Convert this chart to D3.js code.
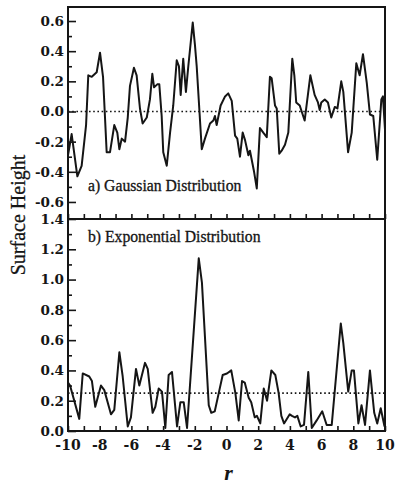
<!DOCTYPE html>
<html><head><meta charset="utf-8">
<script src="https://cdn.jsdelivr.net/npm/d3@7"></script>
<style>
html,body{margin:0;padding:0;background:#fff;}
svg{display:block;}
</style></head>
<body>
<svg id="chart" width="398" height="486"></svg>
<script>
// ---- Data ----
const gaussR = [-10.00,-9.77,-9.41,-9.14,-8.86,-8.72,-8.50,-8.19,-7.98,-7.79,-7.56,-7.35,-7.08,-6.89,-6.76,-6.61,-6.40,-6.23,-6.09,-5.84,-5.67,-5.46,-5.29,-5.03,-4.83,-4.68,-4.57,-4.37,-4.24,-4.09,-3.99,-3.77,-3.56,-3.36,-3.14,-3.00,-2.89,-2.73,-2.56,-2.41,-2.13,-1.99,-1.88,-1.56,-1.36,-1.04,-0.83,-0.73,-0.62,-0.37,-0.09,0.11,0.33,0.54,0.68,0.85,1.02,1.17,1.38,1.48,1.74,1.91,2.11,2.32,2.54,2.74,2.85,3.06,3.17,3.33,3.48,3.69,3.90,4.15,4.28,4.40,4.62,4.93,5.29,5.56,5.77,5.88,5.98,6.20,6.40,6.61,6.83,7.00,7.24,7.37,7.67,7.90,8.19,8.40,8.61,8.85,9.05,9.26,9.51,9.77,9.87,10.00];
const gaussH = [-0.29,-0.15,-0.43,-0.36,-0.09,0.24,0.23,0.26,0.39,0.23,-0.27,-0.27,-0.09,-0.14,-0.25,-0.18,-0.20,-0.04,0.17,0.29,0.24,0.02,-0.08,-0.04,0.08,0.25,0.16,0.18,0.18,-0.03,-0.27,-0.36,-0.14,0.04,0.34,0.30,0.11,0.35,0.13,0.30,0.59,0.44,0.30,-0.25,-0.18,-0.08,-0.06,-0.03,-0.09,0.04,0.10,0.12,0.07,-0.16,-0.18,-0.30,-0.14,-0.19,-0.29,-0.26,-0.40,-0.51,-0.11,-0.14,-0.17,0.23,0.22,0.04,0.02,-0.28,-0.26,-0.22,-0.14,0.35,0.24,0.06,0.04,-0.06,0.24,0.11,0.06,0.01,0.06,0.08,0.06,-0.04,0.03,0.02,0.20,0.13,-0.27,-0.14,0.32,0.24,0.38,0.19,-0.02,-0.03,-0.32,0.08,0.10,-0.12];

const expR = [-10.00,-9.87,-9.29,-9.07,-8.66,-8.49,-8.28,-7.92,-7.71,-7.29,-7.08,-6.76,-6.55,-6.23,-6.03,-5.71,-5.50,-5.14,-4.97,-4.66,-4.49,-4.28,-4.07,-3.86,-3.65,-3.44,-3.12,-2.91,-2.70,-2.49,-1.75,-1.55,-1.12,-0.96,-0.74,-0.49,-0.24,0.03,0.30,0.56,0.77,0.98,1.15,1.40,1.56,1.78,1.92,2.13,2.35,2.56,2.83,3.08,3.29,3.46,3.63,3.99,4.13,4.32,4.47,4.68,4.89,5.16,5.38,5.69,6.04,6.32,6.64,7.21,7.37,7.68,7.90,8.04,8.32,8.52,8.74,9.05,9.32,9.51,9.73,9.97];
const expH = [0.32,0.30,0.08,0.38,0.36,0.33,0.16,0.30,0.27,0.11,0.14,0.52,0.36,0.03,0.09,0.41,0.30,0.45,0.41,0.12,0.16,0.28,0.26,0.02,0.37,0.39,0.03,0.19,0.19,0.02,1.14,0.98,0.17,0.12,0.13,0.25,0.37,0.38,0.40,0.25,0.07,0.33,0.32,0.22,0.19,0.09,0.10,0.05,0.28,0.20,0.40,0.37,0.25,0.10,0.05,0.11,0.10,0.09,0.10,0.03,0.04,0.39,0.02,0.07,0.13,0.04,0.04,0.71,0.58,0.26,0.40,0.40,0.05,0.17,0.04,0.40,0.12,0.05,0.15,0.03];

const xDomain = [-10, 10];
const xTickLabels = [-10,-8,-6,-4,-2,0,2,4,6,8,10];
const xMinorTicks = d3.range(-10, 11, 1);
const yDomainA = [-0.713, 0.693];
const yTicksA = [-0.6,-0.4,-0.2,0.0,0.2,0.4,0.6];
const yMinorA = [-0.5,-0.3,-0.1,0.1,0.3,0.5];
const yDomainB = [0, 1.4];
const yTicksB = [0.0,0.2,0.4,0.6,0.8,1.0,1.2,1.4];
const yMinorB = [0.1,0.3,0.5,0.7,0.9,1.1,1.3];
const refA = 0.0;
const refB = 0.25;
const labelA = "a) Gaussian Distribution";
const labelB = "b) Exponential Distribution";
const yTitle = "Surface Height";
const xTitle = "r";

// ---- Layout ----
const L = 68, R = 385, TA = 7, MID = 219, BB = 431;
const svg = d3.select("#chart");
const x = d3.scaleLinear().domain(xDomain).range([L, R]);
const yA = d3.scaleLinear().domain(yDomainA).range([MID, TA]);
const yB = d3.scaleLinear().domain(yDomainB).range([BB, MID]);
const fmt = v => d3.format(".1f")(v).replace("\u2212", "-");
const serif = "'Liberation Serif', 'Times New Roman', serif";
const tickFont = "'DejaVu Serif', serif";
const ink = "#151515";

const defs = svg.append("defs");
defs.append("clipPath").attr("id","clipA").append("rect").attr("x",L).attr("y",TA).attr("width",R-L).attr("height",MID-TA);
defs.append("clipPath").attr("id","clipB").append("rect").attr("x",L).attr("y",MID).attr("width",R-L).attr("height",BB-MID);

function panel(y, top, bottom, ticks, minor, ref, rs, hs, clip, label, labelY) {
  const g = svg.append("g");
  g.append("line").attr("x1", L).attr("x2", R).attr("y1", y(ref)).attr("y2", y(ref))
    .attr("stroke", ink).attr("stroke-width", 1.6).attr("stroke-dasharray", "1.6,2.6");
  const line = d3.line().x((d,i) => x(rs[i])).y(d => y(d));
  g.append("path").datum(hs).attr("d", line).attr("clip-path", `url(#${clip})`)
    .attr("fill","none").attr("stroke",ink).attr("stroke-width",2).attr("stroke-linejoin","round");
  const ax = d3.axisRight(y).tickValues(ticks).tickSize(8).tickFormat("");
  const gax = g.append("g").attr("transform", `translate(${L},0)`).call(ax);
  gax.select(".domain").remove();
  gax.selectAll("line").attr("stroke",ink).attr("stroke-width",1.6);
  const axm = d3.axisRight(y).tickValues(minor).tickSize(4).tickFormat("");
  const gaxm = g.append("g").attr("transform", `translate(${L},0)`).call(axm);
  gaxm.select(".domain").remove();
  gaxm.selectAll("line").attr("stroke",ink).attr("stroke-width",1.6);
  g.selectAll(null).data(ticks).enter().append("text")
    .attr("x", L - 4).attr("y", d => y(d)).attr("dy", "0.36em")
    .attr("text-anchor","end").attr("font-family", tickFont).attr("font-weight","bold")
    .attr("font-size", 13.5).attr("fill",ink).text(fmt);
  const xa = d3.axisTop(x).tickValues(xMinorTicks).tickSize(5).tickFormat("");
  const gxa = g.append("g").attr("transform", `translate(0,${bottom})`).call(xa);
  gxa.select(".domain").remove();
  gxa.selectAll("line").attr("stroke",ink).attr("stroke-width",1.6);
  g.append("rect").attr("x", L).attr("y", top).attr("width", R-L).attr("height", bottom-top)
    .attr("fill","none").attr("stroke",ink).attr("stroke-width",2);
  g.append("text").attr("x", 88).attr("y", labelY).attr("font-family", serif)
    .attr("font-size", 15.7).attr("fill",ink).attr("stroke",ink).attr("stroke-width",0.3).text(label);
  return g;
}

panel(yA, TA, MID, yTicksA, yMinorA, refA, gaussR, gaussH, "clipA", labelA, 191);
panel(yB, MID, BB, yTicksB, yMinorB, refB, expR, expH, "clipB", labelB, 242);

svg.selectAll(null).data(xTickLabels).enter().append("text")
  .attr("x", d => x(d)).attr("y", 450)
  .attr("text-anchor","middle").attr("font-family", tickFont).attr("font-weight","bold")
  .attr("font-size", 14).attr("fill",ink).text(d => String(d));

svg.append("text").attr("transform", `translate(25,215) rotate(-90)`)
  .attr("text-anchor","middle").attr("font-family", serif).attr("font-size", 20)
  .attr("fill",ink).attr("stroke",ink).attr("stroke-width",0.3).text(yTitle);
svg.append("text").attr("x", x(0) + 2).attr("y", 480).attr("text-anchor","middle")
  .attr("font-family", serif).attr("font-style","italic").attr("font-weight","bold").attr("font-size", 22)
  .attr("fill",ink).text(xTitle);
</script>
</body></html>
